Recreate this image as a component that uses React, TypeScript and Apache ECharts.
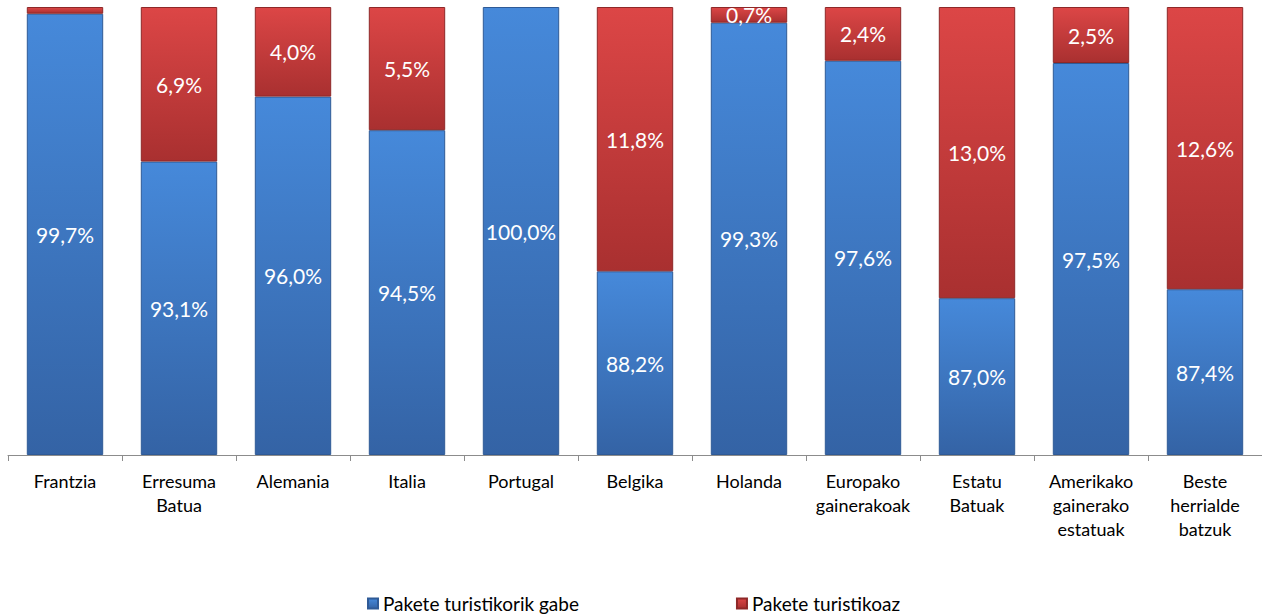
import React, { useEffect, useRef } from "react";
import * as echarts from "echarts";

const categories = [
  "Frantzia",
  "Erresuma\nBatua",
  "Alemania",
  "Italia",
  "Portugal",
  "Belgika",
  "Holanda",
  "Europako\ngainerakoak",
  "Estatu\nBatuak",
  "Amerikako\ngainerako\nestatuak",
  "Beste\nherrialde\nbatzuk",
];
const withoutPackage = [99.7, 93.1, 96.0, 94.5, 100.0, 88.2, 99.3, 97.6, 87.0, 97.5, 87.4];
const withPackage = [0.3, 6.9, 4.0, 5.5, 0.0, 11.8, 0.7, 2.4, 13.0, 2.5, 12.6];
const seriesNames = ["Pakete turistikorik gabe", "Pakete turistikoaz"];
const axisFloor = 80;

const fmt = (v: number) => v.toFixed(1).replace(".", ",") + "%";

export default function App() {
  const ref = useRef<HTMLDivElement>(null);
  useEffect(() => {
    if (!ref.current) return;
    const chart = echarts.init(ref.current, undefined, { renderer: "svg" });
    const font = "Lato, 'Open Sans', sans-serif";
    const blueGrad = new echarts.graphic.LinearGradient(0, 0, 0, 1, [
      { offset: 0, color: "#4689da" },
      { offset: 1, color: "#3463a5" },
    ]);
    const redGrad = new echarts.graphic.LinearGradient(0, 0, 0, 1, [
      { offset: 0, color: "#dc4646" },
      { offset: 1, color: "#a93030" },
    ]);
    chart.setOption({
      animation: false,
      grid: { left: 8, right: 0, top: 7, bottom: 161, containLabel: false },
      legend: {
        left: 362,
        top: 589,
        itemWidth: 10,
        itemHeight: 10,
        itemGap: 157,
        icon: "rect",
        textStyle: { fontFamily: font, fontSize: 19, color: "#000" },
        data: seriesNames,
      },
      xAxis: {
        type: "category",
        data: categories,
        axisLine: { lineStyle: { color: "#8c8c8c" } },
        axisTick: { show: true, lineStyle: { color: "#8c8c8c" }, length: 6 },
        axisLabel: {
          interval: 0,
          fontFamily: font,
          fontSize: 18,
          color: "#000",
          lineHeight: 24,
          margin: 14,
        },
      },
      yAxis: {
        type: "value",
        min: 0,
        max: 100 - axisFloor,
        show: false,
        splitLine: { show: false },
      },
      series: [
        {
          name: seriesNames[0],
          type: "bar",
          stack: "total",
          barWidth: "67%",
          data: withoutPackage.map((v) => v - axisFloor),
          itemStyle: { color: blueGrad, borderColor: "#2f5a96", borderWidth: 1 },
          label: {
            show: true,
            position: "inside",
            color: "#fff",
            fontFamily: font,
            fontSize: 21,
            formatter: (p: any) => fmt(withoutPackage[p.dataIndex]),
          },
        },
        {
          name: seriesNames[1],
          type: "bar",
          stack: "total",
          barWidth: "67%",
          data: withPackage.map((v) => (v > 0 ? v : null)),
          itemStyle: { color: redGrad, borderColor: "#8e2828", borderWidth: 1 },
          label: {
            show: true,
            position: "inside",
            color: "#fff",
            fontFamily: font,
            fontSize: 21,
            formatter: (p: any) => (withPackage[p.dataIndex] < 0.5 ? "" : fmt(withPackage[p.dataIndex])),
          },
        },
      ],
    });
    return () => chart.dispose();
  }, []);
  return (
    <div
      ref={ref}
      style={{ position: "absolute", left: 0, top: 0, width: 1262, height: 616, background: "#fff" }}
    />
  );
}
